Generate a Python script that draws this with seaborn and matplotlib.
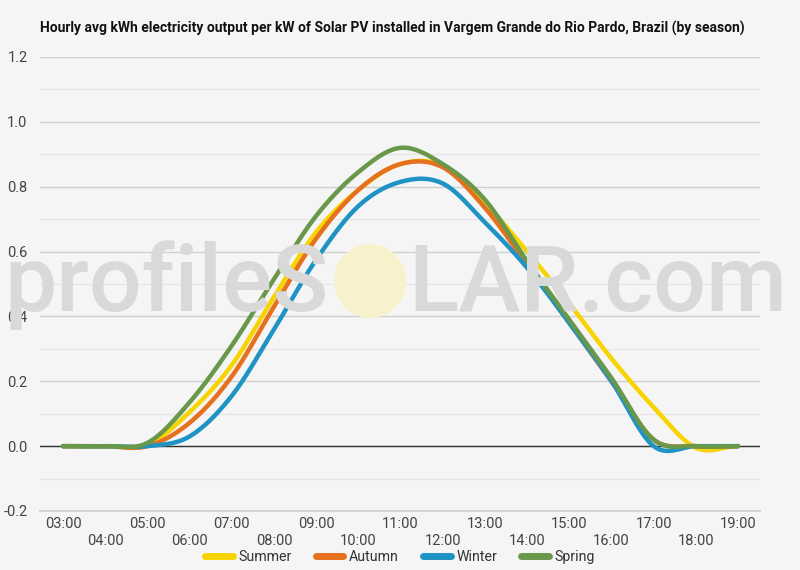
import numpy as np
import pandas as pd
import matplotlib
matplotlib.use("Agg")
import matplotlib.pyplot as plt
import seaborn as sns
from matplotlib.patches import Ellipse

hours = [3, 4, 5, 6, 7, 8, 9, 10, 11, 12, 13, 14, 15, 16, 17, 18, 19]
hour_labels = ["03:00", "04:00", "05:00", "06:00", "07:00", "08:00", "09:00", "10:00",
               "11:00", "12:00", "13:00", "14:00", "15:00", "16:00", "17:00", "18:00", "19:00"]
summer = [0, 0, 0.005, 0.105, 0.25, 0.46, 0.66, 0.79, 0.87, 0.865, 0.75, 0.60, 0.44, 0.27, 0.12, -0.005, 0]
autumn = [0, 0, 0, 0.072, 0.215, 0.43, 0.64, 0.79, 0.87, 0.86, 0.735, 0.56, 0.38, 0.20, 0.02, 0, 0]
winter = [0, 0, 0, 0.03, 0.155, 0.36, 0.575, 0.74, 0.815, 0.81, 0.69, 0.55, 0.38, 0.20, 0.0, 0, 0]
spring = [0, 0, 0.01, 0.135, 0.31, 0.515, 0.71, 0.845, 0.92, 0.87, 0.76, 0.57, 0.39, 0.21, 0.02, 0, 0]
series_names = ["Summer", "Autumn", "Winter", "Spring"]
colors = ["#F7D400", "#E5711F", "#1F93C4", "#6A984A"]
y_ticks = [-0.2, 0.0, 0.2, 0.4, 0.6, 0.8, 1.0, 1.2]
title = "Hourly avg kWh electricity output per kW of Solar PV installed in Vargem Grande do Rio Pardo, Brazil (by season)"


def catmull_rom(x, y, xs):
    x = np.asarray(x, float); y = np.asarray(y, float)
    n = len(x)
    m = np.zeros(n)
    m[1:-1] = (y[2:] - y[:-2]) / (x[2:] - x[:-2])
    idx = np.clip(np.searchsorted(x, xs) - 1, 0, n - 2)
    h = x[idx + 1] - x[idx]
    t = (xs - x[idx]) / h
    h00 = 2 * t**3 - 3 * t**2 + 1
    h10 = t**3 - 2 * t**2 + t
    h01 = -2 * t**3 + 3 * t**2
    h11 = t**3 - t**2
    return h00 * y[idx] + h10 * h * m[idx] + h01 * y[idx + 1] + h11 * h * m[idx + 1]


xs = np.linspace(hours[0], hours[-1], 800)
frames = []
for name, vals in zip(series_names, [summer, autumn, winter, spring]):
    frames.append(pd.DataFrame({"hour": xs, "value": catmull_rom(hours, vals, xs), "season": name}))
df = pd.concat(frames, ignore_index=True)

sns.set_theme(style="white")
plt.rcParams["font.family"] = ["Roboto", "DejaVu Sans"]

bg = "#F5F5F5"
fig = plt.figure(figsize=(8, 5.7), dpi=100, facecolor=bg)
ax = fig.add_axes([0.05, 1 - 511 / 570, 0.90, (511 - 57) / 570])
ax.set_facecolor(bg)

# watermark
wm_color = "#D9D9D9"
fig.text(4 / 800, 1 - 285 / 570, "profileS", fontsize=67, color=wm_color, va="center", ha="left",
         fontweight="medium", zorder=0)
fig.text(408 / 800, 1 - 285 / 570, "LAR.com", fontsize=67, color=wm_color, va="center", ha="left",
         fontweight="medium", zorder=0)
fig.patches.append(Ellipse((370 / 800, 1 - 281 / 570), 72 / 800, 74 / 570, transform=fig.transFigure,
                           facecolor="#F8F2CC", edgecolor="none", zorder=0))

sns.lineplot(data=df, x="hour", y="value", hue="season", palette=colors, hue_order=series_names,
             linewidth=3.2, ax=ax, legend=False, zorder=3)

ax.set_xlim(2.455, 19.52)
ax.set_ylim(-0.2, 1.2)
ax.set_yticks(y_ticks)
ax.set_yticklabels([f"{v:.1f}" for v in y_ticks])
ax.set_yticks(np.arange(-0.1, 1.2, 0.2), minor=True)
ax.yaxis.grid(True, which="major", color="#CFCFCF", linewidth=1)
ax.yaxis.grid(True, which="minor", color="#E6E6E6", linewidth=1)
ax.axhline(0, color="#333333", linewidth=1, zorder=2)
ax.set_xticks(hours)
ax.set_xticklabels([("" if i % 2 == 0 else "\n") + lab for i, lab in enumerate(hour_labels)],
                   linespacing=1.35)
ax.tick_params(axis="both", which="both", length=0, labelsize=10.5, colors="#444444")
ax.tick_params(axis="x", pad=4)
ax.tick_params(axis="y", pad=9)
ax.set_xlabel(""); ax.set_ylabel("")
for s in ["top", "right", "left"]:
    ax.spines[s].set_visible(False)
ax.spines["bottom"].set_color("#CFCFCF")

fig.text(40 / 800, 1 - 28 / 570, title, fontsize=10.0, fontweight="bold", color="#111111",
         va="center", ha="left")

handles = [plt.Line2D([], [], color=c, linewidth=5) for c in colors]
fig.legend(handles, series_names, loc="center", bbox_to_anchor=(0.5, 1 - 557 / 570), ncol=4,
           frameon=False, fontsize=10.2, handlelength=1.95, columnspacing=1.7, handletextpad=0.4,
           labelcolor="#333333")

fig.savefig("out.png", dpi=100, facecolor=bg)
